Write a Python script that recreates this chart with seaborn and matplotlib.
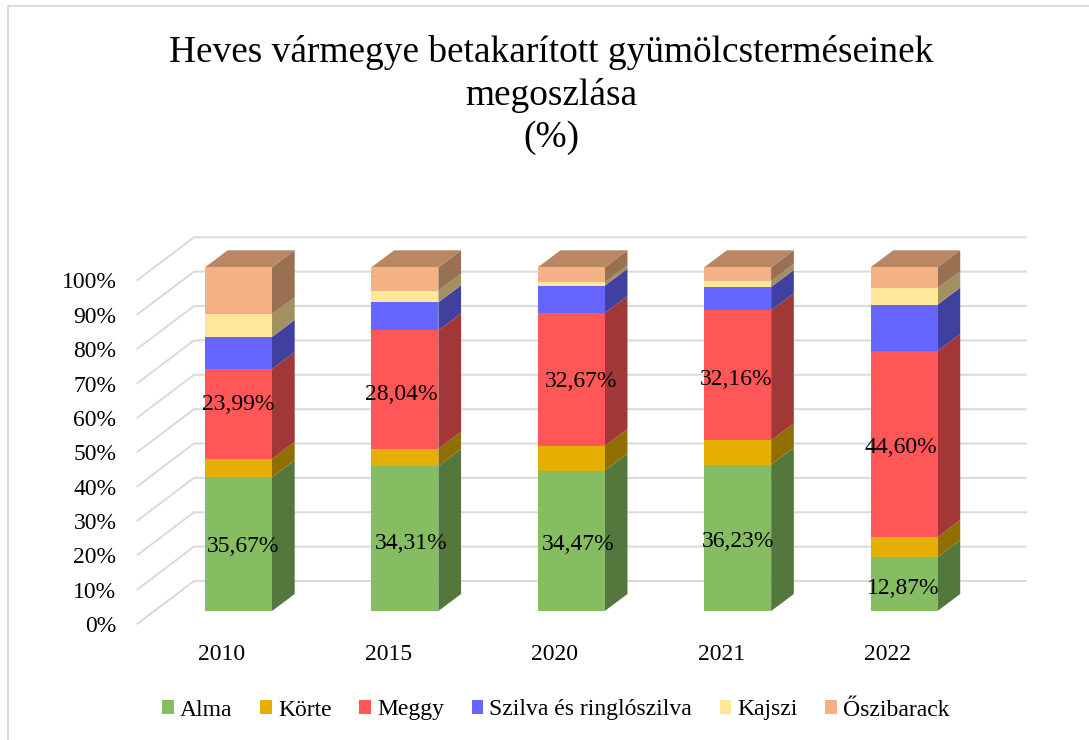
import matplotlib
matplotlib.use("Agg")
import matplotlib.pyplot as plt
import matplotlib.colors as mcolors
from matplotlib.lines import Line2D
from matplotlib.patches import Patch
from matplotlib.transforms import Affine2D
import numpy as np
import pandas as pd
import seaborn as sns

# ---- data ----
years = ["2010", "2015", "2020", "2021", "2022"]
alma = [35.67, 34.31, 34.47, 36.23, 12.87]
korte = [4.88, 4.09, 6.07, 6.04, 4.87]
meggy = [23.99, 28.04, 32.67, 32.16, 44.60]
szilva = [8.53, 6.63, 6.71, 5.77, 11.10]
kajszi = [6.05, 2.75, 0.84, 1.49, 3.93]
oszibarack = [12.53, 5.54, 3.69, 3.39, 5.03]
series_names = ["Alma", "Körte", "Meggy", "Szilva és ringlószilva", "Kajszi", "Őszibarack"]
y_ticks = [0, 10, 20, 30, 40, 50, 60, 70, 80, 90, 100]
title_text = "Heves vármegye betakarított gyümölcsterméseinek\nmegoszlása\n(%)"

# ---- style ----
colors = ["#86BD63", "#E6AF00", "#FF5757", "#6666FF", "#FFE699", "#F4B183"]
alma_shift = [(4.5, -2), (6.5, -4.5), (6.5, -4), (0, -4), (-1, -4)]
meggy_shift = [(-0.5, 9), (-3.5, -4.5), (9.5, -1.5), (-2, -4), (-3, -4)]
W, H = 1089, 740
PX_X = 166.38      # pixels per category
PX_Y = 3.437       # pixels per percent
LEFT = 238.5 - 0.5 * PX_X
BASE = 611.0
BAR_W = 67 / PX_X
DEPTH_X, DEPTH_Y = 22.7 / PX_X, 17 / PX_Y
BACK_Y = 30 / PX_Y
FRONT_Y = -13.3 / PX_Y
GRID_LEFT_BACK = (194 - 238.5) / PX_X
GRID_LEFT_FRONT = (136.7 - 238.5) / PX_X
GRID_RIGHT = (1027 - 238.5) / PX_X
FONT = "Liberation Serif"

sns.set_theme(style="white")
plt.rcParams["font.family"] = [FONT, "DejaVu Serif"]

fig = plt.figure(figsize=(W / 100, H / 100), dpi=100, facecolor="white")
ax = fig.add_axes([LEFT / W, (H - BASE) / H, 5 * PX_X / W, 100 * PX_Y / H])
ax.set_facecolor("none")

df = pd.DataFrame(
    np.array([alma, korte, meggy, szilva, kajszi, oszibarack]).T,
    index=years, columns=series_names,
)
share = df.div(df.sum(axis=1), axis=0) * 100
tops = share.cumsum(axis=1)
bottoms = tops - share

# back wall grid and floor/side diagonals
grid_kw = dict(color="#dadada", lw=1.4, clip_on=False, zorder=1, solid_capstyle="butt")
for v in y_ticks:
    ax.plot([GRID_LEFT_FRONT, GRID_LEFT_BACK, GRID_RIGHT],
            [v + FRONT_Y, v + BACK_Y, v + BACK_Y], **grid_kw)

# front faces
for name, col in zip(series_names, colors):
    sns.barplot(x=years, y=share[name].values, bottom=bottoms[name].values,
                order=years, color=col, saturation=1, width=BAR_W, ax=ax,
                linewidth=0, zorder=3, clip_on=False)

# depth faces
for i in range(len(years)):
    xr = i + BAR_W / 2
    for name, col in zip(series_names, colors):
        b, t = bottoms[name].iloc[i], tops[name].iloc[i]
        rgb = np.array(mcolors.to_rgb(col))
        ax.fill([xr, xr + DEPTH_X, xr + DEPTH_X, xr],
                [b, b + DEPTH_Y, t + DEPTH_Y, t],
                color=rgb * 0.63, lw=0, zorder=2.5, clip_on=False)
    rgb = np.array(mcolors.to_rgb(colors[-1]))
    xl = i - BAR_W / 2
    ax.fill([xl, xr, xr + DEPTH_X, xl + DEPTH_X],
            [100, 100, 100 + DEPTH_Y, 100 + DEPTH_Y],
            color=rgb * 0.76, lw=0, zorder=2.5, clip_on=False)

# value labels
for name, vals, shifts in (("Alma", alma, alma_shift), ("Meggy", meggy, meggy_shift)):
    for i, (v, s) in enumerate(zip(vals, shifts)):
        mid = bottoms[name].iloc[i] + share[name].iloc[i] / 2
        ax.annotate(f"{v:.2f}%".replace(".", ","), xy=(i, mid),
                    xytext=(s[0] * 0.72, s[1] * 0.72), textcoords="offset points",
                    ha="center", va="center", fontsize=17, color="black",
                    zorder=5, annotation_clip=False)

# axes
ax.set_xlim(-0.5, 4.5)
ax.set_ylim(0, 100)
ax.set_yticks(y_ticks, [f"{v}%" for v in y_ticks])
ax.set_xticks(range(len(years)), years)
ax.tick_params(axis="y", length=0, pad=28, labelsize=17, labelcolor="black")
ax.tick_params(axis="x", length=0, pad=23.5, labelsize=17, labelcolor="black")
for lab in ax.get_yticklabels():
    lab.set_transform(lab.get_transform() + Affine2D().translate(0, -13.2))
for lab in ax.get_xticklabels():
    lab.set_transform(lab.get_transform() + Affine2D().translate(-16.5, 0))
for sp in ax.spines.values():
    sp.set_visible(False)
ax.set_xlabel("")
ax.set_ylabel("")

# title
fig.text(551 / W, 1 - 95 / H, title_text, ha="center", va="center",
         fontsize=26.9, color="black", linespacing=1.27)

# legend
handles = [Patch(facecolor=c, edgecolor="none", label=n) for n, c in zip(series_names, colors)]
fig.legend(handles=handles, ncol=6, loc="center", bbox_to_anchor=(556 / W, 1 - 710 / H),
           frameon=False, fontsize=17, handlelength=0.5, handleheight=0.5,
           handletextpad=0.25, columnspacing=1.17, labelcolor="black", borderpad=0)

# chart-area border (top and left edges only)
border_kw = dict(color="#d9d9d9", lw=1.4, transform=fig.transFigure, solid_capstyle="butt")
fig.add_artist(Line2D([8 / W, 8 / W, 1], [0, 1 - 6 / H, 1 - 6 / H], **border_kw))

fig.savefig("out.png", dpi=100, facecolor="white")
